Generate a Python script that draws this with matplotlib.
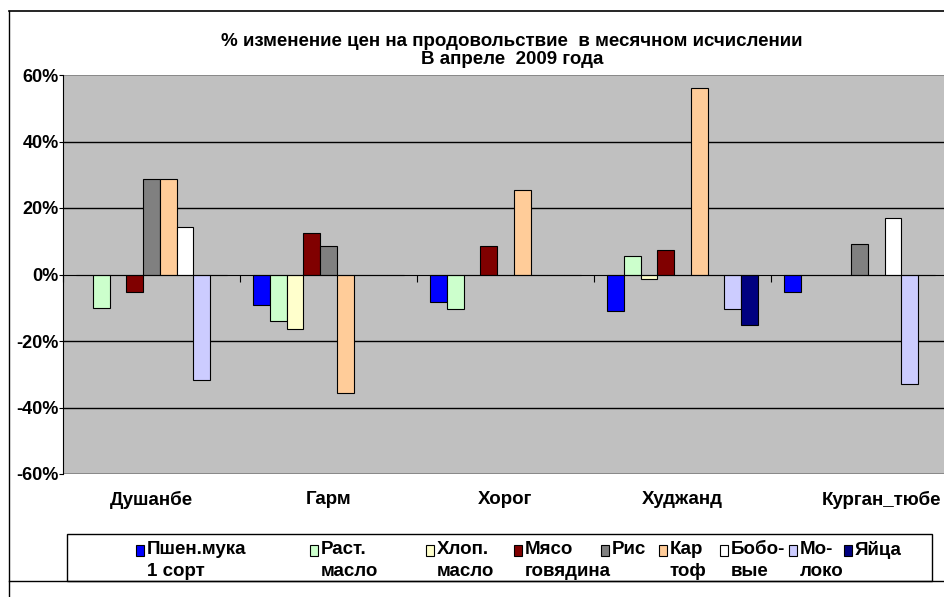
import matplotlib
matplotlib.use("Agg")
import matplotlib.pyplot as plt
import matplotlib.transforms as mtransforms
from matplotlib.lines import Line2D
from matplotlib.patches import Rectangle
import numpy as np

plt.rcParams['font.family'] = ['Liberation Sans', 'DejaVu Sans']
plt.rcParams['font.weight'] = 'bold'

cities = ['Душанбе', 'Гарм', 'Хорог', 'Худжанд', 'Курган_тюбе']
products = ['Пшен.мука\n1 сорт', 'Раст.\nмасло', 'Хлоп.\nмасло', 'Мясо\nговядина',
            'Рис', 'Кар\nтоф', 'Бобо-\nвые', 'Мо-\nлоко', 'Яйца']
colors = ['#0000FF', '#CCFFCC', '#FFFFCC', '#800000', '#808080',
          '#FFCC99', '#FFFFFF', '#CCCCFF', '#000080']

# % change per product, one value per city
pshen = [0, -9.2, -8.3, -11.0, -5.2]
rast = [-10.0, -14.0, -10.5, 5.7, 0]
hlop = [0, -16.5, 0, -1.3, 0]
myaso = [-5.2, 12.6, 8.7, 7.4, 0]
ris = [28.7, 8.7, 0, 0, 9.2]
kartof = [28.7, -35.6, 25.3, 56.1, 0]
bobovye = [14.3, 0, 0, 0, 16.9]
moloko = [-31.7, 0, 0, -10.5, -33.0]
yaytsa = [0, 0, 0, -15.2, 0]
series = [pshen, rast, hlop, myaso, ris, kartof, bobovye, moloko, yaytsa]

yticks = [-60, -40, -20, 0, 20, 40, 60]

W, H = 944, 597
fig = plt.figure(figsize=(W / 100, H / 100), dpi=100)
ax = fig.add_axes([63 / W, 1 - 474 / H, 885 / W, 399 / H])
ax.set_facecolor('#C0C0C0')

x = np.arange(len(cities))
w = 0.0943
for i, vals in enumerate(series):
    ax.bar(x + (i - 4) * w, vals, width=w, color=colors[i],
           edgecolor='black', linewidth=0.8, zorder=3)

ax.set_xlim(-0.5, len(cities) - 0.5)
ax.set_ylim(-60, 60)

for v in yticks:
    if v in (-60, 60):
        ax.axhline(v, color='#808080', lw=1.2, zorder=1)
    elif v != 0:
        ax.axhline(v, color='black', lw=1.0, zorder=1)
ax.set_yticks(yticks)
ax.set_yticklabels([f'{v}%' for v in yticks], fontsize=13, fontweight='bold')
ax.tick_params(axis='y', length=3, pad=0, color='black')

ax.spines['bottom'].set_position(('data', 0))
ax.spines['bottom'].set_zorder(4)
ax.spines['top'].set_visible(False)
ax.spines['right'].set_visible(False)
ax.spines['left'].set_color('black')
ax.set_xticks(np.arange(len(cities) + 1) - 0.5)
ax.set_xticklabels([])
ax.tick_params(axis='x', length=5, direction='out', color='black')

# category labels under the plot area
nudge = [0, 0, 0, 0, 22]
for i, c in enumerate(cities):
    tr = mtransforms.offset_copy(ax.get_xaxis_transform(), fig=fig, x=nudge[i], y=0, units='dots')
    ax.text(i, -0.065, c, transform=tr, ha='center', va='center',
            fontsize=13.5, fontweight='bold', clip_on=False)

fig.text(512 / W, 1 - 41 / H, '% изменение цен на продовольствие  в месячном исчислении',
         ha='center', va='center', fontsize=13.5, fontweight='bold')
fig.text(512 / W, 1 - 60 / H, 'В апреле  2009 года',
         ha='center', va='center', fontsize=13.5, fontweight='bold')

# chart frame
fig.add_artist(Line2D([9 / W, 9 / W], [0, 1 - 11 / H], color='black', lw=1))
fig.add_artist(Line2D([9 / W, 1], [1 - 11 / H, 1 - 11 / H], color='black', lw=1.2))
fig.add_artist(Line2D([9 / W, 1], [1 - 581 / H, 1 - 581 / H], color='black', lw=1))

# legend
fig.add_artist(Rectangle((67 / W, 1 - 581 / H), 865 / W, 47 / H,
                         transform=fig.transFigure, fill=False, edgecolor='black', lw=1))
leg_x = [136, 310, 426, 514, 601, 659, 720, 789, 844]
for i, lab in enumerate(products):
    fig.add_artist(Rectangle((leg_x[i] / W, 1 - 556 / H), 8 / W, 11 / H,
                             transform=fig.transFigure, facecolor=colors[i],
                             edgecolor='black', lw=0.8))
    fig.text((leg_x[i] + 11) / W, 1 - 541 / H, lab, ha='left', va='top',
             fontsize=13.5, fontweight='bold', linespacing=1.35)

fig.savefig('out.png', dpi=100)
